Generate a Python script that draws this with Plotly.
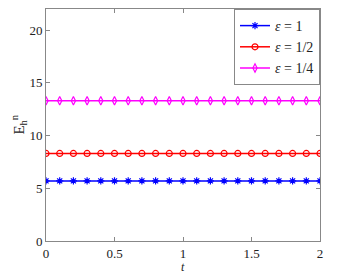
import plotly.graph_objects as go

t = [i / 10 for i in range(21)]
e1 = [5.7] * 21
e2 = [8.3] * 21
e4 = [13.3] * 21
names = ["<i>ε</i> = 1", "<i>ε</i> = 1/2", "<i>ε</i> = 1/4"]
colors = ["#0000ff", "#ff0000", "#ff00ff"]
symbols = ["asterisk-open", "circle-open", "diamond-tall-open"]
FONT = "Liberation Serif, Times New Roman, serif"

fig = go.Figure()
for ys, nm, c, s in zip([e1, e2, e4], names, colors, symbols):
    fig.add_trace(go.Scatter(x=t, y=ys, mode="lines+markers", name=nm,
                             line=dict(color=c, width=1.5),
                             marker=dict(symbol=s, size=6, color=c, line=dict(color=c, width=1.2))))

axis_common = dict(showline=True, linecolor="#888", linewidth=1, mirror="ticks",
                   ticks="inside", ticklen=4, tickcolor="#888", showgrid=False, zeroline=False,
                   automargin=False,
                   tickfont=dict(family=FONT, size=13, color="#222"))
fig.update_xaxes(range=[0, 2], tickvals=[0, 0.5, 1, 1.5, 2], ticktext=["0", "0.5", "1", "1.5", "2"],
                 ticklabelstandoff=0, **axis_common)
fig.update_yaxes(range=[0, 22], tickvals=[0, 5, 10, 15, 20], **axis_common)
fig.add_annotation(text="<i>t</i>", xref="paper", yref="paper", x=0.5, y=-0.079, yanchor="top",
                   showarrow=False, borderpad=0, font=dict(family=FONT, size=12, color="#222"))
fig.add_annotation(text="E<sub>h</sub><sup>n</sup>", xref="paper", yref="paper", x=-0.1, y=0.5,
                   textangle=-90, xanchor="center", showarrow=False,
                   font=dict(family=FONT, size=15, color="#222"))
fig.update_layout(width=346, height=265, margin=dict(l=38, r=34, t=1, b=32),
                  plot_bgcolor="white", paper_bgcolor="white", showlegend=True,
                  legend=dict(x=1, y=1, xanchor="right", yanchor="top", bgcolor="white",
                              bordercolor="#888", borderwidth=1, tracegroupgap=6,
                              font=dict(family=FONT, size=14, color="#222")))
fig.write_html("out.html")
